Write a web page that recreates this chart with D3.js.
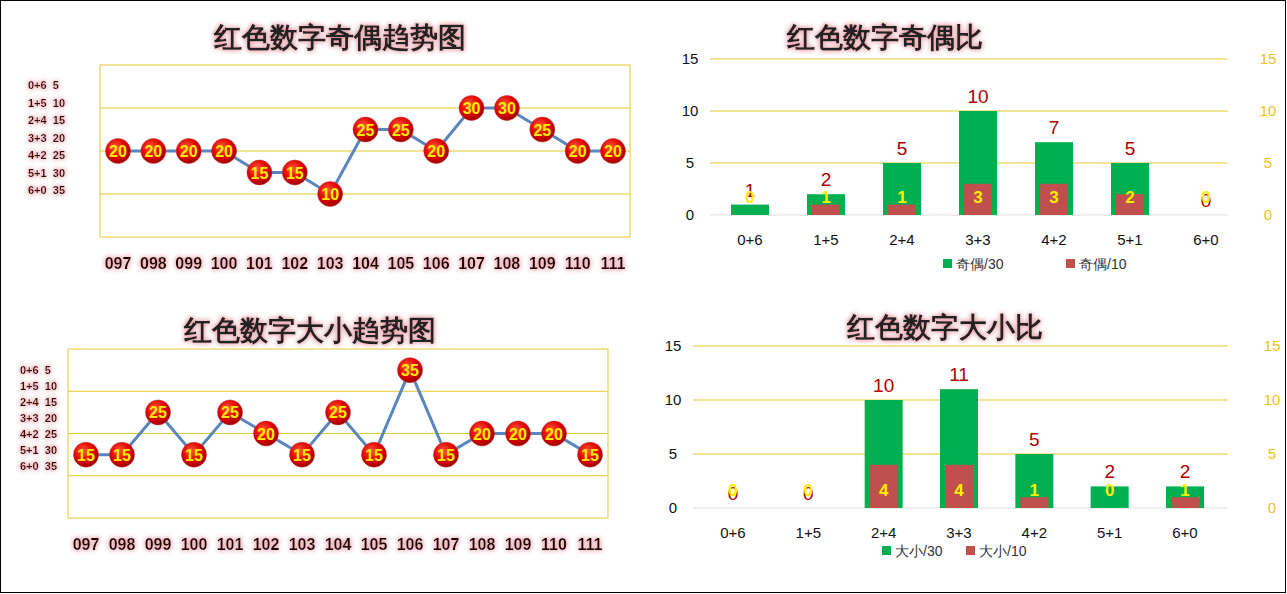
<!DOCTYPE html><html><head><meta charset="utf-8"><script src="https://cdn.jsdelivr.net/npm/d3@7"></script>
<style>body{margin:0;background:#fff}text{font-family:"Liberation Sans Narrow","Liberation Sans",sans-serif}</style></head><body>
<svg id="c" width="1287" height="594"></svg>
<script>
const periods=["097","098","099","100","101","102","103","104","105","106","107","108","109","110","111"];
const oddEvenTrend=[20,20,20,20,15,15,10,25,25,20,30,30,25,20,20];
const bigSmallTrend=[15,15,25,15,25,20,15,25,15,35,15,20,20,20,15];
const legendLabels=["0+6  5","1+5  10","2+4  15","3+3  20","4+2  25","5+1  30","6+0  35"];
const ratioCats=["0+6","1+5","2+4","3+3","4+2","5+1","6+0"];
const oddEven30=[1,2,5,10,7,5,0];
const oddEven10=[0,1,1,3,3,2,0];
const bigSmall30=[0,0,10,11,5,2,2];
const bigSmall10=[0,0,4,4,1,0,1];
const yTicks=[0,5,10,15];

const svg=d3.select("#c");
const defs=svg.append("defs");
const f=defs.append("filter").attr("id","glow").attr("x","-20%").attr("y","-30%").attr("width","140%").attr("height","160%");
f.append("feGaussianBlur").attr("in","SourceAlpha").attr("stdDeviation",2.5).attr("result","b");
f.append("feFlood").attr("flood-color","#e8a0a8");
f.append("feComposite").attr("in2","b").attr("operator","in").attr("result","s");
const m=f.append("feMerge");m.append("feMergeNode").attr("in","s");m.append("feMergeNode").attr("in","s");m.append("feMergeNode").attr("in","SourceGraphic");
const g=defs.append("radialGradient").attr("id","ball").attr("cx","40%").attr("cy","35%").attr("r","65%");
g.append("stop").attr("offset","0%").attr("stop-color","#ff5a3a");
g.append("stop").attr("offset","60%").attr("stop-color","#e00000");
g.append("stop").attr("offset","100%").attr("stop-color","#a00000");

svg.append("rect").attr("x",0.5).attr("y",0.5).attr("width",1285).attr("height",592).attr("fill","none").attr("stroke","#000");

function title(t,x,y){svg.append("text").attr("x",x).attr("y",y).attr("text-anchor","middle").attr("font-size",28).attr("font-weight","bold").attr("font-family","Noto Sans CJK SC").attr("fill","#222").attr("filter","url(#glow)").text(t);}
title("红色数字奇偶趋势图",340,47);title("红色数字奇偶比",885,47);
title("红色数字大小趋势图",310,340);title("红色数字大小比",945,337);

function trend(data,x0,x1,y0,y1,px0,px1,labX,labY0,labDy,xlabY){
  const x=d3.scalePoint().domain(periods).range([px0,px1]);
  const y=d3.scaleLinear().domain([0,40]).range([y1,y0]);
  const G=svg.append("g");
  G.append("rect").attr("x",x0).attr("y",y0).attr("width",x1-x0).attr("height",y1-y0).attr("fill","none").attr("stroke","#e6c830");
  [10,20,30].forEach(v=>G.append("line").attr("x1",x0).attr("x2",x1).attr("y1",y(v)).attr("y2",y(v)).attr("stroke","#e6c830"));
  G.append("path").datum(data).attr("d",d3.line().x((d,i)=>x(periods[i])).y(d=>y(d))).attr("fill","none").attr("stroke","#5a86bf").attr("stroke-width",3);
  const n=G.selectAll(".n").data(data).enter().append("g").attr("transform",(d,i)=>`translate(${x(periods[i])},${y(d)})`);
  n.append("circle").attr("r",12.5).attr("fill","url(#ball)").attr("stroke","#c33").attr("stroke-width",0.5);
  n.append("text").attr("text-anchor","middle").attr("dy",6).attr("font-size",16).attr("font-weight","bold").attr("fill","#ffee00").text(d=>d);
  periods.forEach(p=>G.append("text").attr("x",x(p)).attr("y",xlabY).attr("text-anchor","middle").attr("font-size",16).attr("font-weight","bold").attr("fill","#220000").attr("filter","url(#glow)").text(p));
  legendLabels.forEach((t,i)=>G.append("text").attr("x",labX).attr("y",labY0+i*labDy).attr("font-size",11).attr("font-weight","bold").attr("fill","#400").attr("filter","url(#glow)").attr("xml:space","preserve").text(t));
}
trend(oddEvenTrend,100,630,65,237,118,613,28,89,17.5,269);
trend(bigSmallTrend,68,608,349,518,86,590,20,374,16,550);

function bars(g30,g10,x0,x1,yb,yt,c0,c1,rightX,leftX,catY,legY,legA,legB,legX,legOff){
  const x=d3.scalePoint().domain(ratioCats).range([c0,c1]);
  const y=d3.scaleLinear().domain([0,15]).range([yb,yt]);
  const G=svg.append("g");
  [5,10,15].forEach(v=>G.append("line").attr("x1",x0).attr("x2",x1).attr("y1",y(v)).attr("y2",y(v)).attr("stroke","#e6c830"));
  G.append("line").attr("x1",x0).attr("x2",x1).attr("y1",yb).attr("y2",yb).attr("stroke","#ddd");
  const la=d3.axisLeft(y).tickValues(yTicks).tickSize(0);
  const ra=d3.axisRight(y).tickValues(yTicks).tickSize(0);
  const a1=G.append("g").attr("transform",`translate(${leftX},0)`).call(la);
  a1.select(".domain").remove();a1.selectAll("text").attr("font-size",15).attr("fill","#111").attr("text-anchor","middle").attr("x",0);
  const a2=G.append("g").attr("transform",`translate(${rightX},0)`).call(ra);
  a2.select(".domain").remove();a2.selectAll("text").attr("font-size",15).attr("fill","#f0c020").attr("text-anchor","middle").attr("x",0);
  ratioCats.forEach((c,i)=>{
    const cx=x(c);
    G.append("rect").attr("x",cx-19).attr("width",38).attr("y",y(g30[i])).attr("height",yb-y(g30[i])).attr("fill","#00b050");
    G.append("rect").attr("x",cx-14).attr("width",28).attr("y",y(g10[i])).attr("height",yb-y(g10[i])).attr("fill","#c0504d");
    G.append("text").attr("x",cx).attr("y",y(g30[i])-8).attr("text-anchor","middle").attr("font-size",19).attr("fill","#b00000").text(g30[i]);
    G.append("text").attr("x",cx).attr("y",yb-12).attr("text-anchor","middle").attr("font-size",17).attr("font-weight","bold").attr("fill","#ffee00").text(g10[i]);
    G.append("text").attr("x",cx).attr("y",catY).attr("text-anchor","middle").attr("font-size",15).attr("fill","#111").text(c);
  });
  G.append("rect").attr("x",legX).attr("y",legY-10).attr("width",9).attr("height",9).attr("fill","#00b050");
  G.append("text").attr("x",legX+13).attr("y",legY).attr("font-size",14).attr("fill","#333").attr("font-family","Noto Sans CJK SC").text(legA);
  G.append("rect").attr("x",legX+legOff).attr("y",legY-10).attr("width",9).attr("height",9).attr("fill","#c0504d");
  G.append("text").attr("x",legX+legOff+13).attr("y",legY).attr("font-size",14).attr("fill","#333").attr("font-family","Noto Sans CJK SC").text(legB);
}
bars(oddEven30,oddEven10,710,1228,215,59,750,1206,1268,690,245,269,"奇偶/30","奇偶/10",943,123);
bars(bigSmall30,bigSmall10,693,1228,508,346,733,1185,1272,673,538,556,"大小/30","大小/10",882,84);
</script></body></html>
